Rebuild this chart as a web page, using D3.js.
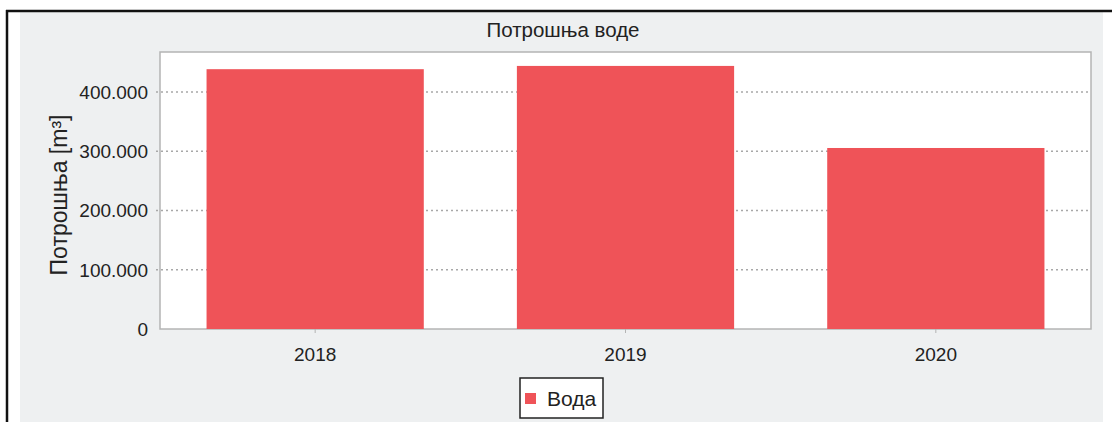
<!DOCTYPE html>
<html>
<head>
<meta charset="utf-8">
<script src="https://cdn.jsdelivr.net/npm/d3@7"></script>
<style>
  body { margin: 0; background: #fff; }
  text { font-family: "Liberation Sans", Arial, sans-serif; fill: #222; }
</style>
</head>
<body>
<div class="canvas"></div>
<script>
// data
const years = ['2018', '2019', '2020'];
const water = [438500, 444000, 305500];
const yTicks = [0, 100000, 200000, 300000, 400000];
const seriesName = 'Вода';

const W = 1112, H = 422;
const m = {t:52, r:22, b:93, l:160};

const svg = d3.select('.canvas').append('svg')
  .attr('width', W).attr('height', H);

// grey panel + black frame
svg.append('rect').attr('x', 20).attr('y', 12).attr('width', 1083).attr('height', H - 12)
  .attr('fill', '#eef0f1');
svg.append('line').attr('x1', 6).attr('x2', W).attr('y1', 11).attr('y2', 11)
  .attr('stroke', '#111').attr('stroke-width', 2.5);
svg.append('line').attr('x1', 7).attr('x2', 7).attr('y1', 10).attr('y2', H)
  .attr('stroke', '#111').attr('stroke-width', 2.5);

const x = d3.scaleBand().domain(years).range([m.l, 1091]).paddingInner(0.3).paddingOuter(0.15);
const y = d3.scaleLinear().domain([0, 467500]).range([329, m.t]);

// plot area
svg.append('rect').attr('x', m.l).attr('y', m.t)
  .attr('width', 1091 - m.l).attr('height', 329 - m.t)
  .attr('fill', '#fff').attr('stroke', '#b4b4b4').attr('stroke-width', 1.5);

// dotted grid
svg.append('g').selectAll('line').data(yTicks.slice(1)).enter().append('line')
  .attr('x1', m.l - 4).attr('x2', 1091)
  .attr('y1', d => y(d)).attr('y2', d => y(d))
  .attr('stroke', '#a8a8a8').attr('stroke-width', 1.3).attr('stroke-dasharray', '2,3');

// bars
svg.append('g').selectAll('rect').data(water).enter().append('rect')
  .attr('x', (d, i) => x(years[i]))
  .attr('width', x.bandwidth())
  .attr('y', d => y(d))
  .attr('height', d => y(0) - y(d))
  .attr('fill', '#ef5358');

// y axis labels
const fmt = d => d3.format(',')(d).replace(/,/g, '.');
svg.append('g').selectAll('text').data(yTicks).enter().append('text')
  .attr('x', 148).attr('y', d => y(d)).attr('dy', '0.36em')
  .attr('text-anchor', 'end').style('font-size', '19px')
  .text(fmt);

// x axis ticks + labels
svg.append('g').selectAll('line').data(years).enter().append('line')
  .attr('x1', d => x(d) + x.bandwidth() / 2).attr('x2', d => x(d) + x.bandwidth() / 2)
  .attr('y1', 329).attr('y2', 333).attr('stroke', '#b4b4b4');
svg.append('g').selectAll('text').data(years).enter().append('text')
  .attr('x', d => x(d) + x.bandwidth() / 2).attr('y', 361)
  .attr('text-anchor', 'middle').style('font-size', '19px')
  .text(d => d);

// titles
svg.append('text').attr('x', 563).attr('y', 37).attr('text-anchor', 'middle')
  .style('font-size', '20.5px').text('Потрошња воде');
svg.append('text').attr('transform', 'translate(67,195) rotate(-90)')
  .attr('text-anchor', 'middle').style('font-size', '23px').text('Потрошња [m³]');

// legend
const lg = svg.append('g');
lg.append('rect').attr('x', 520).attr('y', 378).attr('width', 83).attr('height', 40)
  .attr('fill', '#fff').attr('stroke', '#222').attr('stroke-width', 1.5);
lg.append('rect').attr('x', 525).attr('y', 393).attr('width', 11).attr('height', 11)
  .attr('fill', '#ef5358');
lg.append('text').attr('x', 547).attr('y', 406).style('font-size', '21px').text(seriesName);
</script>
</body>
</html>
